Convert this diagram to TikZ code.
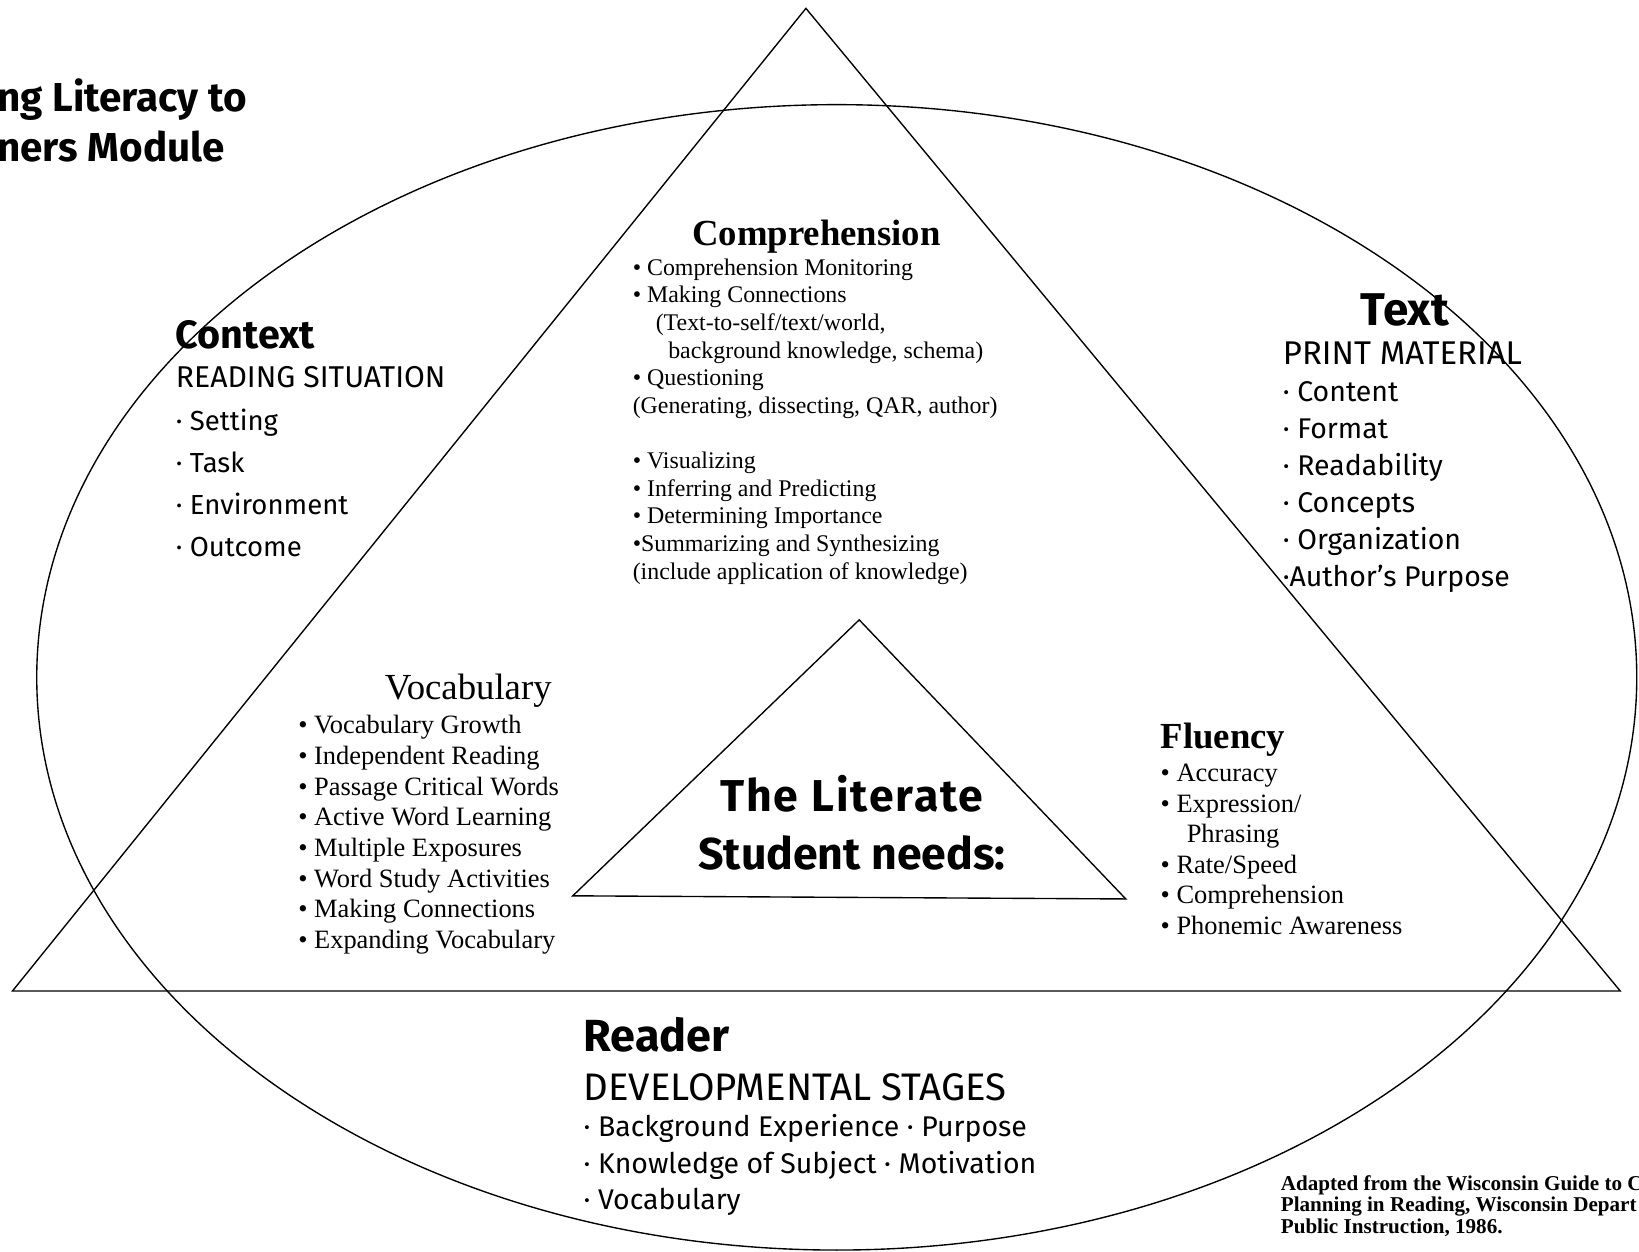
\documentclass[tikz,border=0pt]{standalone}
\usepackage{fontspec}
\setmainfont{Liberation Serif}
\newfontfamily\comicfont{Fira Sans}
\usepackage{tikz}
\tikzset{
  shapeline/.style={draw, line width=0.75pt, line join=miter},
  list/.style={inner sep=0pt, align=left, anchor=north west},
  head/.style={inner sep=0pt, font=\bfseries\fontsize{20}{24}\selectfont},
  comichead/.style={inner sep=0pt, font=\comicfont\bfseries\fontsize{#1}{#1}\selectfont},
  comiclist/.style={list, font=\comicfont\fontsize{15.5}{#1}\selectfont}
}

\begin{document}
\begin{tikzpicture}[x=0.02cm, y=-0.02cm]
  \useasboundingbox (0,0) rectangle (1568,1197);
  \coordinate (top) at (771,8);
  \coordinate (left) at (12,948);
  \coordinate (right) at (1550,948);
  \coordinate (itop) at (822,593);
  \coordinate (ileft) at (548,857);
  \coordinate (iright) at (1077,860);
  \draw [shapeline] (top) -- (left) -- (right) -- cycle;
  \draw [shapeline] (itop) -- (ileft) -- (iright) -- cycle;
  \draw [shapeline] (800.5,648) ellipse [x radius=15.31cm, y radius=10.96cm];

  \node [list, font=\comicfont\bfseries\fontsize{22}{27.3}\selectfont] (title) at (-3,74.5) {ng Literacy to\\ners Module};

  \node [comichead=21.5, anchor=west] (context) at (168,320) {Context};
  \node [comiclist=22.9] (contextlist) at (168,350.6) {{\fontsize{16.4}{22.9}\selectfont READING SITUATION}\\{\fontsize{15}{22.9}\selectfont · Setting}\\{\fontsize{15}{22.9}\selectfont · Task}\\{\fontsize{15}{22.9}\selectfont · Environment}\\{\fontsize{15}{22.9}\selectfont · Outcome}};

  \node [head] (comp) at (781,226) {Comprehension};
  \node [list, font=\fontsize{13}{15.05}\selectfont] (complist) at (605,247) {• Comprehension Monitoring\\• Making Connections\\\hspace*{0.44cm}(Text-to-self/text/world,\\\hspace*{0.68cm}background knowledge, schema)\\• Questioning\\(Generating, dissecting, QAR, author)\\\mbox{}\\• Visualizing\\• Inferring and Predicting\\• Determining Importance\\•Summarizing and Synthesizing\\(include application of knowledge)};

  \node [comichead=25] (text) at (1344,297) {Text};
  \node [comiclist=20.1] (textlist) at (1227,327) {{\fontsize{17.9}{20.1}\selectfont PRINT MATERIAL}\\· Content\\· Format\\· Readability\\· Concepts\\· Organization\\·Author’s Purpose};

  \node [inner sep=0pt, font=\fontsize{20}{24}\selectfont] (vocab) at (448,661) {Vocabulary};
  \node [list, font=\fontsize{14.4}{16.7}\selectfont] (vocablist) at (285,684) {• Vocabulary Growth\\• Independent Reading\\• Passage Critical Words\\• Active Word Learning\\• Multiple Exposures\\• Word Study Activities\\• Making Connections\\• Expanding Vocabulary};

  \node [head, anchor=west] (fluency) at (1110,708) {Fluency};
  \node [list, font=\fontsize{14.4}{16.6}\selectfont] (fluencylist) at (1110,731) {• Accuracy\\• Expression/\\\hspace*{0.5cm}Phrasing\\• Rate/Speed\\• Comprehension\\• Phonemic Awareness};

  \node [inner sep=0pt, align=center, font=\comicfont\bfseries\fontsize{24.3}{31.6}\selectfont] (student) at (815,787) {{\addfontfeatures{LetterSpace=4.5}The Literate}\\Student needs:};

  \node [comichead=24.5, anchor=west] (reader) at (558,990) {Reader};
  \node [inner sep=0pt, anchor=west, font=\comicfont\fontsize{20.9}{24}\selectfont] (stages) at (558,1040) {DEVELOPMENTAL STAGES};
  \node [comiclist=19.9] (readerlist) at (558,1066) {· Background Experience · Purpose\\· Knowledge of Subject · Motivation\\· Vocabulary};

  \node [list, font=\bfseries\fontsize{11.5}{11.7}\selectfont] (source) at (1225,1124) {Adapted from the Wisconsin Guide to C\\Planning in Reading, Wisconsin Depart\\Public Instruction, 1986.};
\end{tikzpicture}
\end{document}
